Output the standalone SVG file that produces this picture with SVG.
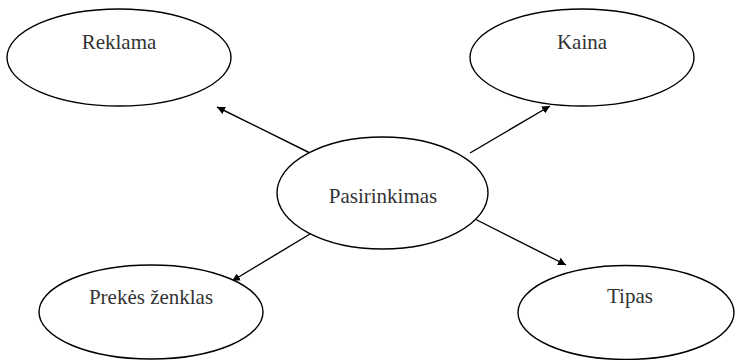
<svg xmlns="http://www.w3.org/2000/svg" width="735" height="360" viewBox="0 0 735 360">
  <style>
    .node ellipse { fill: #ffffff; stroke: #000000; stroke-width: 1.4; }
    .label { font-size: 21px; fill: #333333; text-anchor: middle; }
    #connectors line { stroke: #000000; stroke-width: 1.4; marker-end: url(#arrow); }
  </style>
  <defs>
    <marker id="arrow" viewBox="0 0 10 10" refX="10" refY="5" markerWidth="8" markerHeight="8" markerUnits="userSpaceOnUse" orient="auto">
      <path d="M0,0 L10,5 L0,10 z" fill="#000000"/>
    </marker>
  </defs>
  <rect width="735" height="360" fill="#ffffff"/>

  <g id="connectors">
    <line x1="310" y1="153" x2="217" y2="107"/>
    <line x1="470" y1="153" x2="550" y2="106"/>
    <line x1="310" y1="234" x2="232" y2="281"/>
    <line x1="471" y1="217" x2="566" y2="265"/>
  </g>

  <g font-family="'Liberation Serif', 'Times New Roman', 'DejaVu Serif', serif">
    <g id="reklama" class="node">
      <ellipse cx="119" cy="57.5" rx="112" ry="48.5"/>
      <text class="label" x="119" y="49">Reklama</text>
    </g>
    <g id="kaina" class="node">
      <ellipse cx="582" cy="57.5" rx="112" ry="48.5"/>
      <text class="label" x="582" y="49">Kaina</text>
    </g>
    <g id="pasirinkimas" class="node">
      <ellipse cx="382.5" cy="193" rx="105.5" ry="56"/>
      <text class="label" x="383" y="203">Pasirinkimas</text>
    </g>
    <g id="prekes-zenklas" class="node">
      <ellipse cx="151" cy="312" rx="112" ry="47"/>
      <text class="label" x="151" y="304">Prekės ženklas</text>
    </g>
    <g id="tipas" class="node">
      <ellipse cx="626" cy="312.5" rx="108" ry="47"/>
      <text class="label" x="630" y="303">Tipas</text>
    </g>
  </g>
</svg>
